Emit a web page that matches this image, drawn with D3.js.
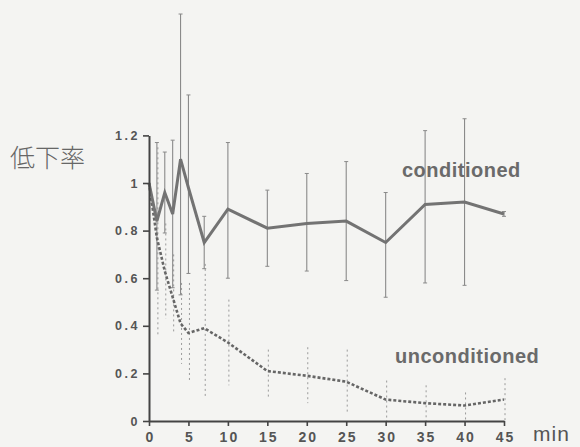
<!DOCTYPE html>
<html>
<head>
<meta charset="utf-8">
<script src="https://cdn.jsdelivr.net/npm/d3@7"></script>
<style>
  html, body { margin: 0; padding: 0; background: #f4f4f2; }
  svg { display: block; }
</style>
</head>
<body>
<div id="chart"></div>
<script>
// reaction rate over time, conditioned vs unconditioned

const times = [0, 1, 2, 3, 4, 5, 7, 10, 15, 20, 25, 30, 35, 40, 45];

const condMean = [1.0, 0.84, 0.96, 0.87, 1.10, 0.98, 0.75, 0.89, 0.81, 0.83, 0.84, 0.75, 0.91, 0.92, 0.87];
const condHi   = [1.0, 1.17, 1.13, 1.18, 1.71, 1.37, 0.86, 1.17, 0.97, 1.04, 1.09, 0.96, 1.22, 1.27, 0.88];
const condLo   = [1.0, 0.55, 0.79, 0.56, 0.53, 0.62, 0.64, 0.60, 0.65, 0.63, 0.59, 0.52, 0.58, 0.57, 0.86];

const uncMean = [1.0, 0.77, 0.63, 0.52, 0.41, 0.37, 0.39, 0.33, 0.21, 0.19, 0.165, 0.09, 0.075, 0.065, 0.09];
const uncHi   = [1.0, 1.15, 0.83, 0.70, 0.58, 0.58, 0.66, 0.51, 0.30, 0.31, 0.30, 0.17, 0.15, 0.12, 0.18];
const uncLo   = [1.0, 0.36, 0.43, 0.37, 0.24, 0.16, 0.10, 0.15, 0.09, 0.075, 0.03, 0.0, 0.0, 0.0, 0.0];

const xTicks = [0, 5, 10, 15, 20, 25, 30, 35, 40, 45];
const yTicks = [0, 0.2, 0.4, 0.6, 0.8, 1, 1.2];
const yTickLabels = ["0", "0.2", "0.4", "0.6", "0.8", "1", "1.2"];

const width = 580, height = 447;

const svg = d3.select("#chart")
    .append("svg")
    .attr("width", width)
    .attr("height", height);

svg.append("rect")
    .attr("width", width)
    .attr("height", height)
    .attr("fill", "#f4f4f2");

const x = d3.scaleLinear().domain([0, 45]).range([149, 504]);
const y = d3.scaleLinear().domain([0, 1.2]).range([421, 135.4]);

const cond = times.map((t, i) => ({ t: t, v: condMean[i], hi: condHi[i], lo: condLo[i] }));
const unc = times.map((t, i) => ({ t: t, v: uncMean[i], hi: uncHi[i], lo: uncLo[i] }));

// error bars first so lines sit on top
svg.append("g")
    .selectAll("line")
    .data(unc.filter(d => d.t > 0))
    .enter()
    .append("line")
    .attr("x1", d => x(d.t) + 1)
    .attr("x2", d => x(d.t) + 1)
    .attr("y1", d => y(d.hi))
    .attr("y2", d => y(d.lo))
    .attr("stroke", "#9a9a9a")
    .attr("stroke-width", 1)
    .attr("stroke-dasharray", "2,3");

const condBars = svg.append("g")
    .selectAll("g")
    .data(cond.filter(d => d.t > 0))
    .enter()
    .append("g");

condBars.append("line")
    .attr("x1", d => x(d.t))
    .attr("x2", d => x(d.t))
    .attr("y1", d => y(d.hi))
    .attr("y2", d => y(d.lo))
    .attr("stroke", "#8a8a8a")
    .attr("stroke-width", 1.1);

condBars.append("line")
    .attr("x1", d => x(d.t) - 2)
    .attr("x2", d => x(d.t) + 2)
    .attr("y1", d => y(d.hi))
    .attr("y2", d => y(d.hi))
    .attr("stroke", "#8a8a8a")
    .attr("stroke-width", 1);

condBars.append("line")
    .attr("x1", d => x(d.t) - 2)
    .attr("x2", d => x(d.t) + 2)
    .attr("y1", d => y(d.lo))
    .attr("y2", d => y(d.lo))
    .attr("stroke", "#8a8a8a")
    .attr("stroke-width", 1);

const line = d3.line()
    .x(d => x(d.t))
    .y(d => y(d.v));

svg.append("path")
    .datum(unc)
    .attr("d", line)
    .attr("fill", "none")
    .attr("stroke", "#666")
    .attr("stroke-width", 2.6)
    .attr("stroke-dasharray", "3,2");

svg.append("path")
    .datum(cond)
    .attr("d", line)
    .attr("fill", "none")
    .attr("stroke", "#737373")
    .attr("stroke-width", 3)
    .attr("stroke-linejoin", "miter");

// axes
const yAxis = d3.axisLeft(y)
    .tickValues(yTicks)
    .tickFormat((d, i) => yTickLabels[i])
    .tickSize(6)
    .tickSizeOuter(0)
    .tickPadding(5);

const gy = svg.append("g")
    .attr("transform", `translate(${x(0)},0)`)
    .call(yAxis);

const xAxis = d3.axisBottom(x)
    .tickValues(xTicks)
    .tickSize(5)
    .tickSizeOuter(0)
    .tickPadding(6);

const gx = svg.append("g")
    .attr("transform", `translate(0,${y(0)})`)
    .call(xAxis);

[gx, gy].forEach(g => {
    g.select(".domain").attr("stroke", "#444").attr("stroke-width", 2);
    g.selectAll(".tick line").attr("stroke", "#444").attr("stroke-width", 1.6);
    g.selectAll(".tick text")
        .attr("fill", "#555")
        .style("font-family", "'Liberation Sans', Arial, sans-serif")
        .style("font-weight", "bold");
});

gy.selectAll(".tick text")
    .style("font-size", "12.5px")
    .style("letter-spacing", "2.5px")
    .attr("dx", "2");

gx.selectAll(".tick text")
    .style("font-size", "14px")
    .style("letter-spacing", "2px")
    .attr("dx", "1");

// labels
svg.append("text")
    .attr("x", 10)
    .attr("y", 167)
    .style("font-family", "'Noto Sans CJK JP', sans-serif")
    .style("font-size", "25px")
    .style("font-weight", "300")
    .attr("fill", "#666")
    .text("低下率");

svg.append("text")
    .attr("x", 402)
    .attr("y", 177)
    .style("font-family", "'Liberation Sans', Arial, sans-serif")
    .style("font-size", "20px")
    .style("font-weight", "bold")
    .style("letter-spacing", "0.5px")
    .attr("fill", "#6a6a6a")
    .text("conditioned");

svg.append("text")
    .attr("x", 395)
    .attr("y", 363)
    .style("font-family", "'Liberation Sans', Arial, sans-serif")
    .style("font-size", "20px")
    .style("font-weight", "bold")
    .style("letter-spacing", "0.5px")
    .attr("fill", "#6a6a6a")
    .text("unconditioned");

svg.append("text")
    .attr("x", 533)
    .attr("y", 441)
    .style("font-family", "'Liberation Sans', Arial, sans-serif")
    .style("font-size", "21px")
    .style("letter-spacing", "1px")
    .attr("fill", "#555")
    .text("min");
</script>
</body>
</html>
